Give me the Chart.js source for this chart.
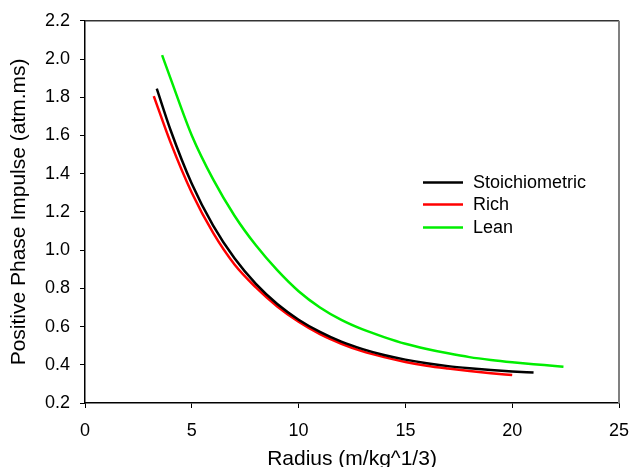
<!DOCTYPE html>
<html lang="en">
<head>
    <meta charset="UTF-8">
    <title>Positive Phase Impulse vs Radius</title>
    <script src="https://cdn.jsdelivr.net/npm/chart.js"></script>
    <style>
        body {
            margin: 0;
            background: #fff;
        }
    </style>
</head>
<body>

<canvas id="impulseChart" width="630" height="467"></canvas>

<script>
    // values
    const seriesLabels = ['Stoichiometric', 'Rich', 'Lean'];
    const seriesColors = ['#000000', '#ff0000', '#00ee00'];

    const stoichX = [3.36, 4, 5, 6, 7, 8, 9, 10, 11, 12, 13, 14, 15, 16, 17, 18, 19, 20, 21];
    const stoichY = [1.845, 1.63, 1.347, 1.128, 0.957, 0.823, 0.718, 0.636, 0.572, 0.521, 0.482, 0.451, 0.427, 0.408, 0.393, 0.382, 0.373, 0.365, 0.359];

    const richX = [3.22, 4, 5, 6, 7, 8, 9, 10, 11, 12, 13, 14, 15, 16, 17, 18, 19, 20];
    const richY = [1.806, 1.565, 1.30, 1.09, 0.925, 0.805, 0.705, 0.625, 0.56, 0.51, 0.47, 0.44, 0.415, 0.395, 0.38, 0.367, 0.356, 0.346];

    const leanX = [3.61, 4, 5, 6, 7, 8, 9, 10, 11, 12, 13, 14, 15, 16, 17, 18, 19, 20, 21, 22, 22.4];
    const leanY = [2.02, 1.90, 1.60, 1.37, 1.18, 1.025, 0.895, 0.785, 0.70, 0.635, 0.585, 0.545, 0.51, 0.483, 0.46, 0.44, 0.425, 0.413, 0.403, 0.394, 0.39];

    const xTicks = [0, 5, 10, 15, 20, 25];
    const yTicks = [0.2, 0.4, 0.6, 0.8, 1.0, 1.2, 1.4, 1.6, 1.8, 2.0, 2.2];

    function toPoints(xs, ys) {
        return xs.map((x, i) => ({ x: x, y: ys[i] }));
    }

    const allX = [stoichX, richX, leanX];
    const allY = [stoichY, richY, leanY];

    const datasets = seriesLabels.map((label, i) => ({
        label: label,
        data: toPoints(allX[i], allY[i]),
        borderColor: seriesColors[i],
        backgroundColor: seriesColors[i],
        borderWidth: 2.5,
        pointRadius: 0,
        showLine: true,
        fill: false,
        cubicInterpolationMode: 'monotone'
    }));

    // top/right frame plus the legend inside the plot
    const framePlugin = {
        id: 'frame',
        afterDraw(chart) {
            const { ctx, chartArea: a } = chart;
            ctx.save();
            ctx.strokeStyle = '#333';
            ctx.lineWidth = 1.5;
            ctx.beginPath();
            ctx.moveTo(a.left, a.top);
            ctx.lineTo(a.right, a.top);
            ctx.stroke();
            ctx.strokeStyle = '#808080';
            ctx.lineWidth = 2;
            ctx.beginPath();
            ctx.moveTo(a.right, a.top);
            ctx.lineTo(a.right, a.bottom);
            ctx.stroke();

            // legend
            ctx.font = '18px Arial, "Liberation Sans", sans-serif';
            ctx.textBaseline = 'middle';
            ctx.fillStyle = '#000';
            const rowY = [182.5, 204.5, 227.5];
            chart.data.datasets.forEach((ds, i) => {
                ctx.strokeStyle = ds.borderColor;
                ctx.lineWidth = 2.5;
                ctx.beginPath();
                ctx.moveTo(423, rowY[i]);
                ctx.lineTo(463, rowY[i]);
                ctx.stroke();
                ctx.fillText(ds.label, 473, rowY[i] + 1);
            });
            ctx.restore();
        }
    };

    const fontFamily = 'Arial, "Liberation Sans", sans-serif';

    new Chart(document.getElementById('impulseChart'), {
        type: 'scatter',
        data: { datasets: datasets },
        options: {
            responsive: false,
            animation: false,
            layout: { padding: { left: 0, top: 19, right: 0, bottom: 0 } },
            plugins: {
                legend: { display: false },
                tooltip: { enabled: false }
            },
            scales: {
                x: {
                    type: 'linear',
                    min: 0,
                    max: 25,
                    afterFit(scale) {
                        scale.height = 64;
                        scale.paddingLeft = 0;
                        scale.paddingRight = 11;
                    },
                    afterBuildTicks(scale) { scale.ticks = xTicks.map(v => ({ value: v })); },
                    ticks: {
                        color: '#000',
                        font: { family: fontFamily, size: 18 },
                        padding: 12,
                        callback: v => String(v)
                    },
                    grid: {
                        drawOnChartArea: false,
                        drawTicks: true,
                        tickLength: 5,
                        tickColor: '#000'
                    },
                    border: { display: true, color: '#000', width: 1.5 },
                    title: {
                        display: true,
                        text: 'Radius (m/kg^1/3)',
                        color: '#000',
                        font: { family: fontFamily, size: 21 },
                        padding: { top: 0, bottom: -4.6 }
                    }
                },
                y: {
                    type: 'linear',
                    min: 0.2,
                    max: 2.2,
                    afterFit(scale) { scale.width = 85; },
                    afterBuildTicks(scale) { scale.ticks = yTicks.map(v => ({ value: v })); },
                    ticks: {
                        color: '#000',
                        font: { family: fontFamily, size: 18 },
                        padding: 10,
                        callback: v => Number(v).toFixed(1)
                    },
                    grid: {
                        drawOnChartArea: false,
                        drawTicks: true,
                        tickLength: 5,
                        tickColor: '#000'
                    },
                    border: { display: true, color: '#000', width: 1.5 },
                    title: {
                        display: true,
                        text: 'Positive Phase Impulse (atm.ms)',
                        color: '#000',
                        font: { family: fontFamily, size: 21 },
                        padding: { top: 7, bottom: 0 }
                    }
                }
            }
        },
        plugins: [framePlugin]
    });
</script>

</body>
</html>
